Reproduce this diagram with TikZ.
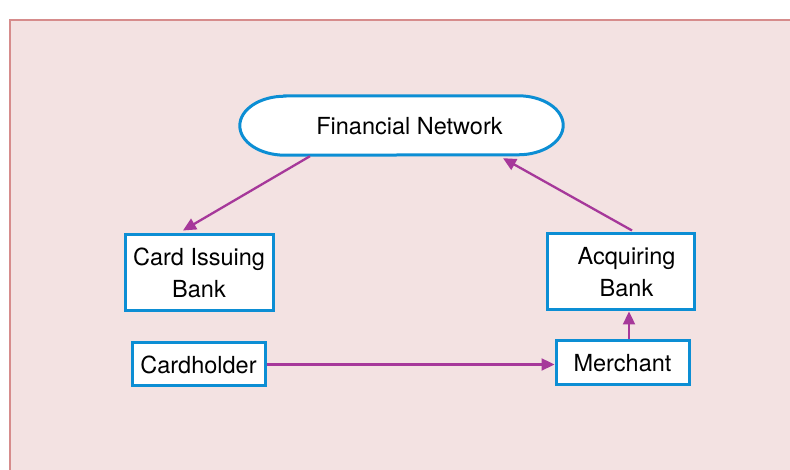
\documentclass[tikz,border=0pt]{standalone}
\usepackage{fontspec}
\setmainfont{TeX Gyre Heros}
\usetikzlibrary{arrows.meta}
\definecolor{boxblue}{RGB}{12,142,212}
\definecolor{arrowpurple}{RGB}{166,56,154}
\definecolor{bgpink}{RGB}{243,226,226}
\definecolor{bgborder}{RGB}{214,140,140}
\tikzset{
  boxnode/.style={draw=boxblue, line width=3pt, fill=white, inner sep=0pt, align=center,
    font=\fontsize{23.5}{31.5}\selectfont},
  flow/.style={draw=arrowpurple, line width=2.3pt, -{Triangle[length=13pt,width=12pt]}},
  txt/.style={font=\fontsize{23.5}{31.5}\selectfont, inner sep=0pt}
}
\begin{document}
\begin{tikzpicture}[x=1pt,y=1pt]
\useasboundingbox (0,0) rectangle (790,470);
\fill[bgpink] (10,0) rectangle (790,450);
\draw[bgborder, line width=1.2pt] (10,0) -- (10,450) -- (790,450);

% Financial network (rounded oval)
\node (fn) [minimum width=323pt, minimum height=59pt, inner sep=0pt] at (401.5,344.5) {};
\draw[boxblue, line width=3pt, fill=white]
  ([xshift=45pt]fn.north west) -- ([xshift=-45pt]fn.north east)
  arc[start angle=90, end angle=-90, x radius=45pt, y radius=29.5pt]
  -- ([xshift=45pt]fn.south west)
  arc[start angle=270, end angle=90, x radius=45pt, y radius=29.5pt] -- cycle;
\node[txt] (fntext) at ([xshift=8pt,yshift=-1pt]fn.center) {Financial Network};

\node[boxnode, minimum width=148pt, minimum height=76pt] (cib) at (199,197) {Card Issuing\\Bank};
\node[boxnode, minimum width=147pt, minimum height=76pt] (ab) at (620.5,198) {\hspace*{12pt}Acquiring\\\hspace*{12pt}Bank};
\node[boxnode, minimum width=133pt, minimum height=43pt] (ch) at (198.5,105.5) {Cardholder};
\node[boxnode, minimum width=133pt, minimum height=44pt] (m) at (622.5,107) {Merchant};

\draw[flow] ([xshift=-91.5pt,yshift=-1pt]fn.south) -- ([xshift=-16pt,yshift=3pt]cib.north);
\draw[flow] ([xshift=11.5pt,yshift=2pt]ab.north) -- ([xshift=101.5pt,yshift=-3pt]fn.south);
\draw[flow] (ch.east) -- (ch.east -| m.west);
\draw[flow] ([xshift=6.5pt]m.north) -- ([xshift=6.5pt]m.north |- ab.south);
\end{tikzpicture}
\end{document}
